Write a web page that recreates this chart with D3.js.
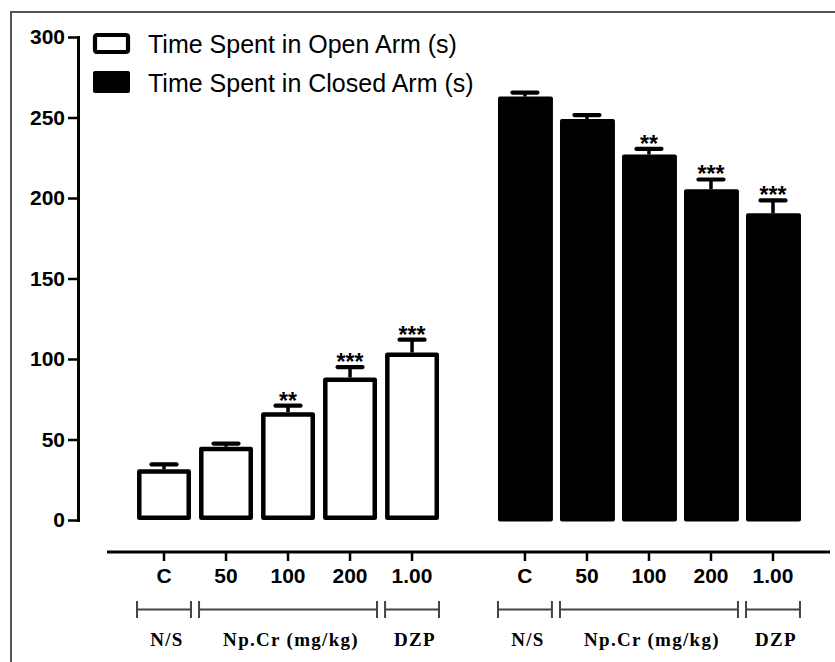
<!DOCTYPE html>
<html>
<head>
<meta charset="utf-8">
<script src="https://cdn.jsdelivr.net/npm/d3@7"></script>
<style>
  body { margin: 0; background: #fff; }
  text { fill: #000; }
</style>
</head>
<body>
<div id="chart"></div>
<script>
"use strict";

// values
const doses = ["C", "50", "100", "200", "1.00"];
const openMeans = [31.5, 45.5, 67, 88.5, 104];
const openErr = [3, 2, 4, 6.5, 8];
const openSig = ["", "", "**", "***", "***"];
const closedMeans = [263, 249, 227, 205.5, 190.5];
const closedErr = [2.5, 2.5, 3.5, 6, 8];
const closedSig = ["", "", "**", "***", "***"];
const yTicks = [0, 50, 100, 150, 200, 250, 300];
const seriesNames = ["Time Spent in Open Arm (s)", "Time Spent in Closed Arm (s)"];
const groupLabels = ["N/S", "Np.Cr (mg/kg)", "DZP"];
const groupSpans = [["C", "C"], ["50", "200"], ["1.00", "1.00"]];

const width = 835, height = 662;

const svg = d3.select("#chart")
  .append("svg")
  .attr("width", width)
  .attr("height", height);

// frame (top and left only)
svg.append("path")
  .attr("d", `M11,${height} V12 H${width}`)
  .attr("fill", "none")
  .attr("stroke", "#555")
  .attr("stroke-width", 2);

let y = d3.scaleLinear().domain([0, 300]).range([520, 37]);

let xOuter = d3.scaleBand()
  .domain(["open", "closed"])
  .range([133, 804])
  .paddingInner(0.141);

let xInner = d3.scaleBand()
  .domain(doses)
  .range([0, xOuter.bandwidth()])
  .paddingInner(0.13)
  .paddingOuter(0.065);

let series = [
  { key: "open", means: openMeans, err: openErr, sig: openSig },
  { key: "closed", means: closedMeans, err: closedErr, sig: closedSig }
];

// y axis
let yAxis = svg.append("g")
  .attr("transform", "translate(78,0)")
  .call(d3.axisLeft(y).tickValues(yTicks).tickSize(10).tickSizeOuter(0).tickPadding(3));
yAxis.select(".domain").attr("stroke-width", 3).attr("stroke-linecap", "square");
yAxis.selectAll(".tick line").attr("stroke-width", 2.5);
yAxis.selectAll(".tick text")
  .attr("font-family", "Liberation Sans, Arial, sans-serif")
  .attr("font-weight", "bold")
  .attr("font-size", 21);

const sw = 4.5;

series.forEach(function(s) {
  let g = svg.append("g")
    .attr("transform", `translate(${xOuter(s.key)},0)`);
  let rows = doses.map(function(d, i) {
    return { dose: d, mean: s.means[i], err: s.err[i], sig: s.sig[i] };
  });
  let bw = xInner.bandwidth();

  if (s.key === "open") {
    g.selectAll("rect.bar").data(rows).join("rect")
      .attr("class", "bar")
      .attr("x", d => xInner(d.dose) + sw / 2)
      .attr("y", d => y(d.mean) + sw / 2)
      .attr("width", bw - sw)
      .attr("height", d => y(0) - y(d.mean) - sw)
      .attr("fill", "#fff")
      .attr("stroke", "#000")
      .attr("stroke-width", sw)
      .attr("stroke-linejoin", "round");
  } else {
    g.selectAll("rect.bar").data(rows).join("rect")
      .attr("class", "bar")
      .attr("x", d => xInner(d.dose))
      .attr("y", d => y(d.mean))
      .attr("width", bw + 1)
      .attr("height", d => y(0) - y(d.mean) + 1.5)
      .attr("rx", 2)
      .attr("fill", "#000");
  }

  // error bars (upper only)
  g.selectAll("line.stem").data(rows).join("line")
    .attr("class", "stem")
    .attr("x1", d => xInner(d.dose) + bw / 2)
    .attr("x2", d => xInner(d.dose) + bw / 2)
    .attr("y1", d => y(d.mean))
    .attr("y2", d => y(d.mean + d.err))
    .attr("stroke", "#000")
    .attr("stroke-width", 3.5);

  g.selectAll("line.cap").data(rows).join("line")
    .attr("class", "cap")
    .attr("x1", d => xInner(d.dose) + bw / 2 - 12.5)
    .attr("x2", d => xInner(d.dose) + bw / 2 + 12.5)
    .attr("y1", d => y(d.mean + d.err))
    .attr("y2", d => y(d.mean + d.err))
    .attr("stroke", "#000")
    .attr("stroke-width", 4.2)
    .attr("stroke-linecap", "round");

  g.selectAll("text.sig").data(rows.filter(d => d.sig)).join("text")
    .attr("class", "sig")
    .attr("x", d => xInner(d.dose) + bw / 2)
    .attr("y", d => y(d.mean + d.err) + 3)
    .attr("text-anchor", "middle")
    .attr("font-family", "Liberation Sans, Arial, sans-serif")
    .attr("font-weight", "bold")
    .attr("font-size", 23)
    .text(d => d.sig);

  // x ticks and labels
  g.selectAll("line.xtick").data(rows).join("line")
    .attr("class", "xtick")
    .attr("x1", d => xInner(d.dose) + bw / 2)
    .attr("x2", d => xInner(d.dose) + bw / 2)
    .attr("y1", 552)
    .attr("y2", 561)
    .attr("stroke", "#000")
    .attr("stroke-width", 2.5);

  g.selectAll("text.xlab").data(rows).join("text")
    .attr("class", "xlab")
    .attr("x", d => xInner(d.dose) + bw / 2)
    .attr("y", 583)
    .attr("text-anchor", "middle")
    .attr("font-family", "Liberation Sans, Arial, sans-serif")
    .attr("font-weight", "bold")
    .attr("font-size", 21)
    .text(d => d.dose);

  // group brackets
  let spans = groupSpans.map(function(sp, i) {
    return { x0: xInner(sp[0]), x1: xInner(sp[1]) + bw, label: groupLabels[i] };
  });
  g.selectAll("path.bracket").data(spans).join("path")
    .attr("class", "bracket")
    .attr("d", d => `M${d.x0},601 V618 M${d.x0},609.5 H${d.x1} M${d.x1},601 V618`)
    .attr("fill", "none")
    .attr("stroke", "#444")
    .attr("stroke-width", 2);

  g.selectAll("text.glab").data(spans).join("text")
    .attr("class", "glab")
    .attr("x", d => (d.x0 + d.x1) / 2 + 3)
    .attr("y", 646)
    .attr("text-anchor", "middle")
    .attr("font-family", "Liberation Serif, Times New Roman, serif")
    .attr("font-weight", "bold")
    .attr("font-size", 19)
    .attr("letter-spacing", 1.3)
    .text(d => d.label);
});

// x axis line
svg.append("line")
  .attr("x1", 107).attr("x2", 830)
  .attr("y1", 552).attr("y2", 552)
  .attr("stroke", "#000")
  .attr("stroke-width", 3);

// legend
let legend = svg.append("g").attr("transform", "translate(93,33)");
legend.append("rect")
  .attr("x", 2).attr("y", 2)
  .attr("width", 33).attr("height", 17)
  .attr("rx", 2)
  .attr("fill", "#fff")
  .attr("stroke", "#000")
  .attr("stroke-width", 4.2);
legend.append("rect")
  .attr("x", 0).attr("y", 38)
  .attr("width", 37).attr("height", 22)
  .attr("rx", 2)
  .attr("fill", "#000");
legend.selectAll("text").data(seriesNames).join("text")
  .attr("x", 55)
  .attr("y", (d, i) => 20 + i * 38.5)
  .attr("font-family", "Liberation Sans, Arial, sans-serif")
  .attr("font-size", 25)
  .text(d => d);
</script>
</body>
</html>
